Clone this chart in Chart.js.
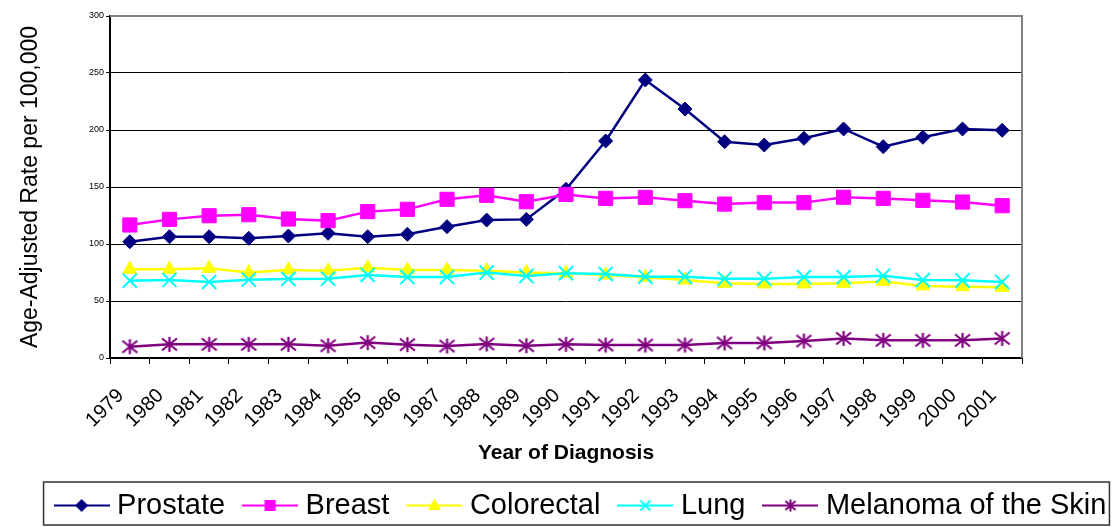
<!DOCTYPE html>
<html>
<head>
<meta charset="utf-8">
<script src="https://cdn.jsdelivr.net/npm/chart.js"></script>
<style>
  html, body { margin: 0; padding: 0; background: #fff; }
  #wrap { width: 1119px; height: 527px; }
</style>
</head>
<body>
<div id="wrap"><canvas id="chart" width="1119" height="527"></canvas></div>
<script>
const years = ['1979', '1980', '1981', '1982', '1983', '1984', '1985', '1986', '1987', '1988', '1989', '1990',
    '1991', '1992', '1993', '1994', '1995', '1996', '1997', '1998', '1999', '2000', '2001']
const prostate = [102, 106.4, 106.4, 105, 107, 109.4, 106.4, 108.5, 115.2, 121, 121.6, 148,
    190.4, 243.9, 218.4, 189.7, 186.8, 192.7, 200.9, 185.4, 193.6, 200.9, 199.7]
const breast = [116.7, 121.6, 124.8, 125.7, 121.9, 120.5, 128.4, 130.4, 139.2, 142.7, 137.1, 143.5,
    140, 140.9, 138, 135, 136.3, 136.3, 141, 140, 138.3, 136.8, 133.6]
const colorectal = [77.8, 77.8, 78.7, 74.9, 77.2, 76.6, 79.2, 77.2, 77.2, 76.6, 75.1, 74.3,
    72.8, 70.8, 68.4, 65.5, 64.9, 64.9, 65.5, 67, 63.2, 62.6, 62]
const lung = [67.8, 68.4, 66.7, 68.7, 69.3, 69.6, 72.8, 71, 71, 74.9, 71.9, 74.3,
    73.7, 71.3, 71.3, 69.6, 69.6, 71, 71, 72.2, 68.4, 68.1, 66.7]
const melanoma = [9.9, 12, 12, 12, 12, 10.8, 13.5, 11.7, 10.5, 12.3, 10.8, 12,
    11.4, 11.4, 11.4, 13.2, 13.2, 14.9, 17.2, 15.5, 15.5, 15.5, 17.2]
const yTicks = { min: 0, max: 300, step: 50 }

Chart.defaults.font.family = "'Liberation Sans', Arial, sans-serif"
Chart.defaults.color = '#000'

// asterisk marker like the Excel one (vertical bar + X)
function asteriskCanvas(r, color, w) {
    const c = document.createElement('canvas')
    const s = Math.ceil(r * 2 + 4)
    c.width = s; c.height = s
    const g = c.getContext('2d')
    const m = s / 2
    g.strokeStyle = color
    g.lineWidth = w
    g.beginPath()
    g.moveTo(m, m - r); g.lineTo(m, m + r)
    g.moveTo(m - r, m - r * 0.8); g.lineTo(m + r, m + r * 0.8)
    g.moveTo(m - r, m + r * 0.8); g.lineTo(m + r, m - r * 0.8)
    g.stroke()
    return c
}

// legend icon: line with marker in the middle
function legendIcon(color, marker) {
    const c = document.createElement('canvas')
    c.width = 56; c.height = 29
    const g = c.getContext('2d')
    const cx = 28, cy = 14.5
    g.strokeStyle = color
    g.fillStyle = color
    g.lineWidth = 2
    g.beginPath(); g.moveTo(0, cy); g.lineTo(56, cy); g.stroke()
    g.beginPath()
    if (marker === 'diamond') {
        g.moveTo(cx, cy - 6.5); g.lineTo(cx + 6.5, cy); g.lineTo(cx, cy + 6.5); g.lineTo(cx - 6.5, cy); g.closePath(); g.fill()
    } else if (marker === 'square') {
        g.rect(cx - 5.5, cy - 5.5, 11, 11); g.fill()
    } else if (marker === 'triangle') {
        g.moveTo(cx, cy - 7); g.lineTo(cx + 6.5, cy + 4.5); g.lineTo(cx - 6.5, cy + 4.5); g.closePath(); g.fill()
    } else if (marker === 'x') {
        g.moveTo(cx - 5, cy - 5); g.lineTo(cx + 5, cy + 5)
        g.moveTo(cx - 5, cy + 5); g.lineTo(cx + 5, cy - 5); g.stroke()
    } else {
        g.moveTo(cx, cy - 6); g.lineTo(cx, cy + 6)
        g.moveTo(cx - 5, cy - 4.5); g.lineTo(cx + 5, cy + 4.5)
        g.moveTo(cx - 5, cy + 4.5); g.lineTo(cx + 5, cy - 4.5); g.stroke()
    }
    return c
}

const icons = [
    legendIcon('#000080', 'diamond'),
    legendIcon('#FF00FF', 'square'),
    legendIcon('#FFFF00', 'triangle'),
    legendIcon('#00FFFF', 'x'),
    legendIcon('#800080', 'star')
]

const framePlugin = {
    id: 'framePlugin',
    afterLayout(chart) {
        // legend row sits a bit right of centre and lower in the original
        chart.legend.left += 24
        chart.legend.right += 24
        chart.legend.top += 3
        chart.legend.bottom += 3
    },
    beforeDatasetsDraw(chart) {
        const { ctx, chartArea: a } = chart
        ctx.save()
        ctx.strokeStyle = '#808080'
        ctx.lineWidth = 2
        ctx.beginPath()
        ctx.moveTo(a.left, a.top)
        ctx.lineTo(a.right, a.top)
        ctx.lineTo(a.right, a.bottom)
        ctx.stroke()
        ctx.restore()
    },
    afterDraw(chart) {
        const ctx = chart.ctx
        const hb = chart.legend.legendHitBoxes
        if (!hb || !hb.length) return
        const last = hb[hb.length - 1]
        const left = hb[0].left - 17
        const right = last.left + last.width + 3
        const cy = hb[0].top + hb[0].height / 2
        ctx.save()
        ctx.strokeStyle = '#333'
        ctx.lineWidth = 1.5
        ctx.strokeRect(left, cy - 23.5, right - left, 43)
        ctx.restore()
    }
}

new Chart(document.getElementById('chart'), {
    type: 'line',
    data: {
        labels: years,
        datasets: [
            { label: 'Prostate', data: prostate, borderColor: '#000080', backgroundColor: '#000080',
                borderWidth: 2.5, pointStyle: 'rectRot', pointRadius: 7, pointBorderWidth: 1, order: 4 },
            { label: 'Breast', data: breast, borderColor: '#FF00FF', backgroundColor: '#FF00FF',
                borderWidth: 2.5, pointStyle: 'rect', pointRadius: 10, pointBorderWidth: 1, order: 3 },
            { label: 'Colorectal', data: colorectal, borderColor: '#FFFF00', backgroundColor: '#FFFF00',
                borderWidth: 2.5, pointStyle: 'triangle', pointRadius: 8, pointBorderWidth: 1, order: 2 },
            { label: 'Lung', data: lung, borderColor: '#00FFFF', backgroundColor: '#00FFFF',
                borderWidth: 2.5, pointStyle: 'crossRot', pointRadius: 10, pointBorderWidth: 2, order: 1 },
            { label: 'Melanoma of the Skin', data: melanoma, borderColor: '#800080', backgroundColor: '#800080',
                borderWidth: 2.5, pointStyle: asteriskCanvas(7.5, '#800080', 2.2), pointRadius: 7, order: 0 }
        ]
    },
    options: {
        responsive: false,
        animation: false,
        layout: { padding: { left: 0, right: 0, top: 16, bottom: 0 } },
        elements: { line: { tension: 0 } },
        scales: {
            x: {
                type: 'category',
                offset: true,
                grid: { offset: true, drawOnChartArea: false, drawTicks: true, tickLength: 6, color: '#000' },
                border: { color: '#000', width: 2 },
                ticks: { font: { size: 20 }, color: '#000', minRotation: 45, maxRotation: 45, autoSkip: false,
                    padding: 20, labelOffset: -9 },
                title: { display: true, text: 'Year of Diagnosis', font: { size: 21, weight: 'bold', lineHeight: 1.05 },
                    color: '#000', padding: { top: 0, bottom: 0 } },
                afterFit: (s) => { s.height = 106 }
            },
            y: {
                min: yTicks.min,
                max: yTicks.max,
                grid: { color: '#000', lineWidth: 1, tickLength: 4 },
                border: { color: '#000', width: 2 },
                ticks: { stepSize: yTicks.step, font: { size: 9 }, color: '#000', padding: 2 },
                title: { display: true, text: 'Age-Adjusted Rate per 100,000', font: { size: 23 }, color: '#000',
                    padding: { top: 17, bottom: 0 } },
                afterFit: (s) => { s.width = 110 }
            },
            yRight: {
                position: 'right',
                grid: { display: false },
                border: { display: false },
                ticks: { display: false },
                afterFit: (s) => { s.width = 97 }
            }
        },
        plugins: {
            tooltip: { enabled: false },
            legend: {
                position: 'bottom',
                labels: {
                    usePointStyle: true,
                    pointStyleWidth: 42,
                    padding: 24,
                    font: { size: 29 },
                    color: '#000',
                    generateLabels: (chart) => chart.data.datasets.map((ds, i) => ({
                        text: ds.label,
                        pointStyle: icons[i],
                        fillStyle: ds.backgroundColor,
                        strokeStyle: ds.borderColor,
                        lineWidth: 0,
                        hidden: false,
                        datasetIndex: i,
                        fontColor: '#000'
                    }))
                }
            }
        }
    },
    plugins: [framePlugin]
})
</script>
</body>
</html>
